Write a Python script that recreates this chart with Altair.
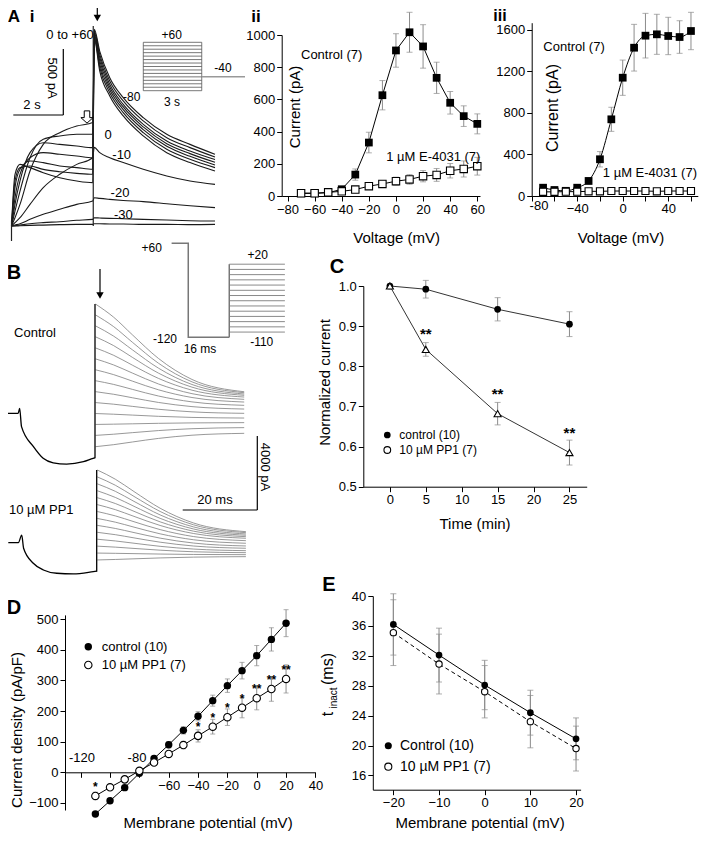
import altair as alt
import pandas as pd

FONT = "Liberation Sans Narrow, Arial Narrow, Liberation Sans, Arial, sans-serif"
BOLD = "Liberation Sans, Arial, sans-serif"
W, H, M = 691, 825, 8
GRAY = "#8c8c8c"

# ---------------- A ii : peak step current ----------------
ii_v = [-70, -60, -50, -40, -30, -20, -10, 0, 10, 20, 30, 40, 50, 60]
ii_ctrl = [17, 17, 20, 42, 133, 332, 626, 904, 1017, 929, 734, 579, 496, 448]
ii_ctrl_err = [5, 5, 5, 8, 35, 64, 91, 104, 124, 135, 97, 70, 64, 62]
ii_e4031 = [17, 17, 23, 29, 40, 61, 75, 92, 103, 123, 131, 157, 168, 185]
ii_e4031_err = [5, 5, 6, 8, 10, 15, 20, 25, 30, 35, 40, 45, 50, 55]

# ---------------- A iii : tail current ----------------
iii_v = [-70, -60, -50, -40, -30, -20, -10, 0, 10, 20, 30, 40, 50, 60]
iii_ctrl = [80, 58, 50, 80, 145, 354, 739, 1140, 1429, 1545, 1558, 1542, 1532, 1590]
iii_ctrl_err = [10, 10, 10, 15, 30, 74, 116, 170, 225, 215, 193, 180, 157, 180]
iii_e4031 = [40, 40, 42, 42, 45, 45, 48, 48, 48, 48, 45, 48, 48, 48]
iii_e4031_err = [10, 10, 10, 10, 10, 10, 10, 10, 10, 10, 10, 10, 10, 10]

# ---------------- C : normalized current vs time ----------------
c_t = [0, 5, 15, 25]
c_ctrl = [1.0, 0.992, 0.942, 0.905]
c_ctrl_err = [0.0, 0.022, 0.029, 0.031]
c_pp1 = [1.0, 0.842, 0.682, 0.585]
c_pp1_err = [0.0, 0.017, 0.028, 0.031]
c_star_t = [5, 15, 25]
c_star_y = [0.880, 0.731, 0.633]

# ---------------- D : I-V ----------------
d_v = [-110, -100, -90, -80, -70, -60, -50, -40, -30, -20, -10, 0, 10, 20]
d_ctrl = [-136, -93, -50, -3, 45, 90, 137, 183, 234, 283, 332, 381, 434, 487]
d_ctrl_err = [8, 8, 8, 5, 8, 10, 12, 15, 18, 22, 27, 33, 38, 44]
d_pp1 = [-77, -49, -23, 5, 32, 60, 89, 119, 149, 180, 211, 242, 272, 305]
d_pp1_err = [12, 8, 8, 5, 8, 10, 12, 20, 24, 27, 33, 38, 40, 46]
d_star_v = [-110, -40, -30, -20, -10, 0, 10, 20]
d_star_y = [-47, 149, 176, 209, 239, 271, 301, 334]
d_star_txt = ["*", "*", "*", "*", "*", "**", "**", "**"]

# ---------------- E : tau inactivation ----------------
e_v = [-20, -10, 0, 10, 20]
e_ctrl = [36.2, 32.1, 28.1, 24.4, 20.9]
e_ctrl_err = [4.1, 3.6, 3.3, 3.0, 2.8]
e_pp1 = [35.1, 30.9, 27.2, 23.2, 19.6]
e_pp1_err = [4.4, 4.0, 3.5, 3.5, 3.0]

# ---------------- A i : current traces (s, pA) ----------------
a1_names = ["+60", "+50", "+40", "+30", "+20", "+10", "0", "-10", "-20", "-30", "-40"]
a1_act_t = [0, 0.14, 0.34, 0.74, 1.27, 1.93, 2.61, 3.25]
a1_tail_t = [3.31, 3.53, 3.93, 4.47, 5.27, 6.21, 7.14, 8.14]
a1_act = [
    [0, 380, 453, 429, 392, 355, 331, 319],
    [0, 331, 429, 441, 416, 399, 387, 380],
    [0, 282, 417, 478, 466, 441, 429, 417],
    [0, 208, 380, 502, 539, 527, 515, 502],
    [0, 159, 331, 539, 612, 600, 588, 576],
    [0, 110, 257, 502, 637, 662, 674, 674],
    [0, 61, 159, 404, 600, 686, 735, 760],
    [0, 25, 61, 159, 282, 380, 453, 502],
    [0, 7, 17, 49, 86, 123, 159, 184],
    [0, 2, 7, 17, 25, 32, 42, 49],
    [0, 0, 2, 5, 7, 10, 12, 12],
]
a1_tail = [
    [1372, 1139, 956, 809, 662, 539, 466, 404],
    [1384, 1164, 980, 833, 686, 564, 490, 429],
    [1397, 1188, 1002, 855, 708, 586, 512, 448],
    [1409, 1213, 1021, 875, 728, 605, 532, 468],
    [1421, 1237, 1041, 894, 747, 625, 551, 488],
    [1433, 1262, 1066, 919, 772, 649, 576, 507],
    [1446, 1284, 1090, 943, 796, 674, 600, 527],
    [578, 539, 502, 466, 417, 368, 331, 306],
    [208, 203, 196, 188, 179, 164, 149, 135],
    [61, 59, 56, 54, 49, 44, 39, 37],
    [17, 17, 15, 15, 12, 12, 10, 12],
]
a1_step_t = 3.27
a1_step_range = [0, 1470]
a1_start_range = [-110, 40]
# protocol inset of A i (s, mV)
a1p_levels = [-80, -70, -60, -50, -40, -30, -20, -10, 0, 10, 20, 30, 40, 50, 60]
a1p_step = [0, 3]
a1p_tail = [3, 5.22, -40]

# ---------------- B : current traces (ms, pA) ----------------
b_t = [0.15, 5, 10, 17, 26, 40]
b_ctrl = [
    [5900, 5190, 4243, 2965, 1829, 1166],
    [5310, 4680, 3841, 2707, 1700, 1112],
    [4720, 4168, 3433, 2440, 1557, 1042],
    [4130, 3656, 3025, 2172, 1414, 972],
    [3530, 3133, 2603, 1887, 1251, 880],
    [2940, 2612, 2176, 1586, 1062, 756],
    [2350, 2089, 1741, 1271, 854, 610],
    [1760, 1561, 1295, 935, 618, 432],
    [1170, 1029, 842, 588, 363, 232],
    [580, 493, 377, 220, 81, 0],
    [-10, -47, -95, -161, -220, -254],
    [-600, -585, -566, -539, -516, -502],
    [-1190, -1127, -1044, -931, -830, -772],
    [-1800, -1692, -1548, -1354, -1181, -1080],
]
b_pp1 = [
    [3926, 3426, 2760, 1860, 1060, 594],
    [3552, 3100, 2498, 1685, 962, 540],
    [3178, 2772, 2230, 1499, 849, 470],
    [2804, 2443, 1963, 1314, 737, 400],
    [2430, 2114, 1693, 1124, 619, 324],
    [2056, 1783, 1420, 929, 493, 238],
    [1682, 1446, 1131, 706, 328, 108],
    [1308, 1107, 839, 477, 156, -32],
    [934, 767, 545, 245, -22, -178],
    [560, 431, 258, 26, -181, -302],
    [186, 93, -30, -197, -346, -432],
    [-188, -241, -311, -406, -491, -540],
    [-562, -575, -592, -615, -636, -648],
    [-934, -907, -872, -824, -781, -756],
]
b_pre_ctrl_t = [-23.5, -20.6, -20.2, -19.7, -16.5, -13.9, -11.2, -7.6, -3.1, -0.5, 0]
b_pre_ctrl = [0, 0, 270, -720, -1800, -2430, -2670, -2740, -2610, -2430, -2400]
b_pre_pp1_t = [-23.7, -21.0, -20.1, -19.6, -17.0, -14.3, -10.7, -6.3, -0.9, 0]
b_pre_pp1 = [0, 0, 410, -302, -1112, -1474, -1652, -1690, -1566, -1540]
b_step_ctrl = [-2430, 5900]
b_step_pp1 = [-1566, 3926]
# protocol inset of B (ms, mV)
bp_hold_t = [-6.5, 0, 0, 16]
bp_hold_v = [60, 60, -120, -120]
bp_levels = [20, 10, 0, -10, -20, -30, -40, -50, -60, -70, -80, -90, -100, -110]
bp_level_t = [16, 37.7]

# ---------------- layout helpers (page pixels -> scales) ----------------
def sc(domain, p0, p1):
    return alt.Scale(domain=domain, range=[p0 - M, p1 - M], nice=False, zero=False)


def xaxis(ypage, values, **kw):
    return alt.Axis(orient="bottom", offset=(ypage - M) - H, values=values, title=None, **kw)


def yaxis(xpage, values, **kw):
    return alt.Axis(orient="left", offset=-(xpage - M), values=values, title=None, **kw)


def errbars(xs, vals, errs, X, Y, cap=6, color=GRAY):
    d = pd.DataFrame({"x": xs, "m": vals, "e": errs})
    d["lo"] = d["m"] - d["e"]
    d["hi"] = d["m"] + d["e"]
    d = d[d["e"] > 0]
    base = alt.Chart(d)
    rule = base.mark_rule(color=color, strokeWidth=1).encode(
        x=alt.X("x:Q", scale=X[0], axis=X[1]),
        y=alt.Y("lo:Q", scale=Y[0], axis=Y[1]), y2="hi:Q")
    caps = base.transform_fold(["lo", "hi"], as_=["k", "val"]).mark_tick(
        color=color, orient="horizontal", size=cap, thickness=1).encode(
        x=alt.X("x:Q", scale=X[0], axis=X[1]),
        y=alt.Y("val:Q", scale=Y[0], axis=Y[1]))
    return [rule, caps]


def series(xs, ys, X, Y, shape, filled, size, line=True, dash=None, stroke=1.0,
           interp="linear"):
    d = pd.DataFrame({"x": xs, "y": ys})
    enc = dict(x=alt.X("x:Q", scale=X[0], axis=X[1]), y=alt.Y("y:Q", scale=Y[0], axis=Y[1]))
    out = []
    if line:
        kw = dict(color="black", strokeWidth=stroke, interpolate=interp)
        if dash:
            kw["strokeDash"] = dash
        out.append(alt.Chart(d).mark_line(**kw).encode(**enc))
    if filled:
        pm = alt.Chart(d).mark_point(shape=shape, filled=True, color="black", size=size, opacity=1)
    else:
        pm = alt.Chart(d).mark_point(shape=shape, filled=True, fill="white", stroke="black",
                                     strokeWidth=1.1, size=size, opacity=1)
    out.append(pm.encode(**enc))
    return out


layers = []

# ---- A ii ----
Xii = (sc([-84.3, 62], 281.7, 480), xaxis(196, list(range(-80, 61, 20))))
Yii = (sc([0, 1000], 196, 35), yaxis(281.7, list(range(0, 1001, 200)), format="d"))
p = []
p += errbars(ii_v, ii_ctrl, ii_ctrl_err, Xii, Yii)
p += errbars(ii_v, ii_e4031, ii_e4031_err, Xii, Yii)
p += series(ii_v, ii_ctrl, Xii, Yii, "square", True, 60)
p += series(ii_v, ii_e4031, Xii, Yii, "square", False, 55)
layers.append(alt.layer(*p))

# ---- A iii ----
Xiii = (sc([-80, 66], 531.7, 697.8),
        xaxis(196, list(range(-80, 61, 20)),
              labelExpr="(datum.value % 40 == 0 && datum.value > -80) ? datum.label : ''",
              labelPadding=1))
Yiii = (sc([0, 1670], 196, 22.7), yaxis(531.7, [0, 400, 800, 1200, 1600], format="d"))
p = []
p += errbars(iii_v, iii_ctrl, iii_ctrl_err, Xiii, Yiii)
p += series(iii_v, iii_ctrl, Xiii, Yiii, "square", True, 60, interp="monotone")
p += series(iii_v, iii_e4031, Xiii, Yiii, "square", False, 50)
layers.append(alt.layer(*p))

# ---- C ----
Xc = (sc([-3.7, 27.4], 363.3, 586.7), xaxis(486.7, [0, 5, 10, 15, 20, 25]))
Yc = (sc([0.5, 1.0], 486.7, 286), yaxis(363.3, [0.5, 0.6, 0.7, 0.8, 0.9, 1.0], format=".1f"))
p = []
p += errbars(c_t, c_ctrl, c_ctrl_err, Xc, Yc)
p += errbars(c_t, c_pp1, c_pp1_err, Xc, Yc)
p += series(c_t, c_ctrl, Xc, Yc, "circle", True, 45, stroke=0.8)
p += series(c_t, c_pp1, Xc, Yc, "triangle-up", False, 50, stroke=0.8)
cs = pd.DataFrame({"x": c_star_t, "y": c_star_y, "s": ["**"] * 3})
p.append(alt.Chart(cs).mark_text(font=BOLD, fontSize=15, fontWeight="bold", baseline="middle").encode(
    x=alt.X("x:Q", scale=Xc[0], axis=Xc[1]), y=alt.Y("y:Q", scale=Yc[0], axis=Yc[1]), text="s:N"))
layers.append(alt.layer(*p))

# ---- D ----
Xd = (sc([-130.7, 40], 65, 315.4),
      xaxis(772.3, list(range(-120, 41, 20)), labelExpr="datum.value < -70 ? '' : datum.label"))
Yd = (sc([-123, 514], 810, 614.9), yaxis(65, list(range(-100, 501, 100))))
p = []
p += errbars(d_v, d_ctrl, d_ctrl_err, Xd, Yd, cap=5)
p += errbars(d_v, d_pp1, d_pp1_err, Xd, Yd, cap=5)
p += series(d_v, d_ctrl, Xd, Yd, "circle", True, 55)
p += series(d_v, d_pp1, Xd, Yd, "circle", False, 55)
ds = pd.DataFrame({"x": d_star_v, "y": d_star_y, "s": d_star_txt})
p.append(alt.Chart(ds).mark_text(font=BOLD, fontSize=12, fontWeight="bold", baseline="middle").encode(
    x=alt.X("x:Q", scale=Xd[0], axis=Xd[1]), y=alt.Y("y:Q", scale=Yd[0], axis=Yd[1]), text="s:N"))
layers.append(alt.layer(*p))

# ---- E ----
Xe = (sc([-24.5, 21], 372.8, 580.6), xaxis(789.7, [-20, -10, 0, 10, 20]))
Ye = (sc([14.1, 40], 789.7, 596), yaxis(372.8, [16, 20, 24, 28, 32, 36, 40]))
p = []
p += errbars(e_v, e_ctrl, e_ctrl_err, Xe, Ye)
p += errbars(e_v, e_pp1, e_pp1_err, Xe, Ye)
p += series(e_v, e_pp1, Xe, Ye, "circle", False, 40, dash=[4, 3])
p += series(e_v, e_ctrl, Xe, Ye, "circle", True, 45)
layers.append(alt.layer(*p))

# ---- A i traces ----
Xa1 = (sc([0, 8.14], 11.5, 215), None)
Ya1 = (sc([-110, 1480], 241, 24.6), None)
rows = []
for k, nm in enumerate(a1_names):
    for i, (t, v) in enumerate(zip(a1_act_t + a1_tail_t, a1_act[k] + a1_tail[k])):
        rows.append({"trace": nm, "idx": i, "t": t, "pA": v})
dfa1 = pd.DataFrame(rows)
tr_a1 = alt.Chart(dfa1).mark_line(color="#1a1a1a", strokeWidth=1.1, interpolate="monotone").encode(
    x=alt.X("t:Q", scale=Xa1[0], axis=None), y=alt.Y("pA:Q", scale=Ya1[0], axis=None),
    detail="trace:N", order="idx:Q")
rr = pd.DataFrame({"t": [a1_step_t, 0], "lo": [a1_step_range[0], a1_start_range[0]],
                   "hi": [a1_step_range[1], a1_start_range[1]]})
st_a1 = alt.Chart(rr).mark_rule(color="#222", strokeWidth=1.2).encode(
    x=alt.X("t:Q", scale=Xa1[0], axis=None), y=alt.Y("lo:Q", scale=Ya1[0], axis=None), y2="hi:Q")
layers.append(alt.layer(tr_a1, st_a1))

# ---- A i protocol inset ----
Xa1p = sc([0, 5.22], 143.3, 245)
Ya1p = sc([-80, 60], 90.7, 42.3)
lv = pd.DataFrame({"t0": [a1p_step[0]] * len(a1p_levels), "t1": [a1p_step[1]] * len(a1p_levels),
                   "v": a1p_levels})
ins1 = alt.Chart(lv).mark_rule(color="#555", strokeWidth=0.8).encode(
    x=alt.X("t0:Q", scale=Xa1p, axis=None), x2="t1:Q", y=alt.Y("v:Q", scale=Ya1p, axis=None))
vv = pd.DataFrame({"t": a1p_step, "lo": [min(a1p_levels)] * 2, "hi": [max(a1p_levels)] * 2})
ins2 = alt.Chart(vv).mark_rule(color="#555", strokeWidth=0.8).encode(
    x=alt.X("t:Q", scale=Xa1p, axis=None), y=alt.Y("lo:Q", scale=Ya1p, axis=None), y2="hi:Q")
tl = pd.DataFrame({"t0": [a1p_tail[0]], "t1": [a1p_tail[1]], "v": [a1p_tail[2]]})
ins3 = alt.Chart(tl).mark_rule(color="#999", strokeWidth=1.5).encode(
    x=alt.X("t0:Q", scale=Xa1p, axis=None), x2="t1:Q", y=alt.Y("v:Q", scale=Ya1p, axis=None))
layers.append(alt.layer(ins1, ins2, ins3))


# ---- B traces ----
def b_panel(tails, pre_t, pre_v, step, X, Y):
    rows = []
    for k, tr in enumerate(tails):
        for i, (t, v) in enumerate(zip(b_t, tr)):
            rows.append({"trace": k, "idx": i, "t": t, "pA": v})
    d = pd.DataFrame(rows)
    tails_l = alt.Chart(d).mark_line(color="#7d7d7d", strokeWidth=0.8, interpolate="monotone").encode(
        x=alt.X("t:Q", scale=X, axis=None), y=alt.Y("pA:Q", scale=Y, axis=None),
        detail="trace:N", order="idx:Q")
    pre = alt.Chart(pd.DataFrame({"t": pre_t, "pA": pre_v})).mark_line(
        color="black", strokeWidth=1.3, interpolate="monotone").encode(
        x=alt.X("t:Q", scale=X, axis=None), y=alt.Y("pA:Q", scale=Y, axis=None))
    stp = alt.Chart(pd.DataFrame({"t": [0], "lo": [step[0]], "hi": [step[1]]})).mark_rule(
        color="black", strokeWidth=1.3).encode(
        x=alt.X("t:Q", scale=X, axis=None), y=alt.Y("lo:Q", scale=Y, axis=None), y2="hi:Q")
    return alt.layer(tails_l, pre, stp)


layers.append(b_panel(b_ctrl, b_pre_ctrl_t, b_pre_ctrl, b_step_ctrl,
                      sc([-25, 40], 1.75, 244.2), sc([-3000, 6000], 468.9, 302.2)))
layers.append(b_panel(b_pp1, b_pre_pp1_t, b_pre_pp1, b_step_pp1,
                      sc([-25, 40], 3.45, 245.9), sc([-2000, 4000], 579.7, 468.6)))

# ---- B protocol inset ----
Xbp = sc([-6.5, 37.7], 171.6, 284.9)
Ybp = sc([-120, 60], 337.3, 243.3)
hold = pd.DataFrame({"t": bp_hold_t, "v": bp_hold_v, "i": list(range(len(bp_hold_t)))})
bp1 = alt.Chart(hold).mark_line(color="#777", strokeWidth=1.5).encode(
    x=alt.X("t:Q", scale=Xbp, axis=None), y=alt.Y("v:Q", scale=Ybp, axis=None), order="i:Q")
bl = pd.DataFrame({"t0": [bp_level_t[0]] * len(bp_levels), "t1": [bp_level_t[1]] * len(bp_levels),
                   "v": bp_levels})
bp2 = alt.Chart(bl).mark_rule(color="#8a8a8a", strokeWidth=1).encode(
    x=alt.X("t0:Q", scale=Xbp, axis=None), x2="t1:Q", y=alt.Y("v:Q", scale=Ybp, axis=None))
bv = pd.DataFrame({"t": [bp_level_t[0]], "lo": [-120], "hi": [max(bp_levels)]})
bp3 = alt.Chart(bv).mark_rule(color="#777", strokeWidth=1.5).encode(
    x=alt.X("t:Q", scale=Xbp, axis=None), y=alt.Y("lo:Q", scale=Ybp, axis=None), y2="hi:Q")
layers.append(alt.layer(bp1, bp2, bp3))

# ---------------- annotations (page pixel layout) ----------------
ann = [
    ("A", 14, 17, 17, 0, "center", True), ("i", 32, 17, 17, 0, "center", True),
    ("ii", 256, 17, 17, 0, "center", True), ("iii", 500, 16, 16, 0, "center", True),
    ("B", 14, 273, 20, 0, "center", True), ("C", 337, 267, 20, 0, "center", True),
    ("D", 14, 608, 20, 0, "center", True), ("E", 329, 585, 20, 0, "center", True),
    ("0 to +60", 70, 35, 13, 0, "center", False),
    ("500 pA", 51.7, 78, 13, 90, "center", False),
    ("2 s", 32, 105, 13, 0, "center", False),
    ("0", 108, 135, 13, 0, "center", False), ("-10", 121.7, 155, 13, 0, "center", False),
    ("-20", 120, 193.3, 13, 0, "center", False), ("-30", 123.3, 215, 13, 0, "center", False),
    ("+60", 171.7, 35, 12, 0, "center", False), ("-80", 131.7, 96.7, 12, 0, "center", False),
    ("-40", 223, 68.3, 12, 0, "center", False), ("3 s", 172, 102, 12, 0, "center", False),
    ("Control (7)", 331.7, 55, 13, 0, "center", False),
    ("1 µM E-4031 (7)", 433.3, 157, 13, 0, "center", False),
    ("Current (pA)", 295, 107, 15, 270, "center", False),
    ("Voltage (mV)", 396.7, 238, 15, 0, "center", False),
    ("Control (7)", 574, 46.7, 13, 0, "center", False),
    ("1 µM E-4031 (7)", 697, 173, 13, 0, "right", False),
    ("Current (pA)", 552.5, 108, 16, 270, "center", False),
    ("Voltage (mV)", 621, 238, 15, 0, "center", False),
    ("-80", 539, 206, 13, 0, "center", False),
    ("Control", 35, 333, 13, 0, "center", False),
    ("10 µM PP1", 9, 510, 13, 0, "left", False),
    ("+60", 151.7, 248.3, 12, 0, "center", False), ("-120", 165, 339, 12, 0, "center", False),
    ("16 ms", 200, 349, 12, 0, "center", False), ("+20", 257.7, 255, 12, 0, "center", False),
    ("-110", 261.7, 342.3, 12, 0, "center", False),
    ("20 ms", 215, 500, 13, 0, "center", False), ("4000 pA", 265, 467, 13, 90, "center", False),
    ("Normalized current", 325, 382.5, 15, 270, "center", False),
    ("Time (min)", 475, 524, 15, 0, "center", False),
    ("-120", 82, 758.3, 13, 0, "center", False), ("-80", 137, 758.3, 13, 0, "center", False),
    ("Current density (pA/pF)", 17, 730, 15, 270, "center", False),
    ("Membrane potential (mV)", 208, 823, 15, 0, "center", False),
    ("Membrane potential (mV)", 480, 823, 15, 0, "center", False),
    ("t", 328, 714, 16, 270, "center", False), ("inact", 334, 698, 10, 270, "center", False),
    ("(ms)", 328, 669, 16, 270, "center", False),
    ("control (10)", 399.3, 435, 12, 0, "left", False), ("10 µM PP1 (7)", 399.3, 450, 12, 0, "left", False),
    ("control (10)", 101.7, 646.7, 13, 0, "left", False), ("10 µM PP1 (7)", 101.7, 665, 13, 0, "left", False),
    ("Control (10)", 400, 745.7, 14, 0, "left", False), ("10 µM PP1 (7)", 400, 766.7, 14, 0, "left", False),
]
adf = pd.DataFrame(ann, columns=["text", "x", "y", "size", "angle", "align", "bold"])
adf["x"] = adf["x"] - M
adf["y"] = adf["y"] - M
for (al, bd), g in adf.groupby(["align", "bold"]):
    layers.append(alt.Chart(g).mark_text(
        align=al, baseline="middle", fontWeight="bold" if bd else "normal",
        font=BOLD if bd else FONT, color="black").encode(
        x=alt.X("x:Q", scale=None), y=alt.Y("y:Q", scale=None), text="text:N",
        size=alt.Size("size:Q", scale=None, legend=None), angle=alt.Angle("angle:Q", scale=None)))

# legend symbols (page pixel layout)
leg = pd.DataFrame([
    (387.3, 435, 45, True), (387.3, 450, 45, False),
    (88.3, 646.7, 55, True), (88.3, 665, 55, False),
    (388.3, 745.7, 50, True), (388.3, 766.7, 50, False),
], columns=["x", "y", "s", "f"])
leg["x"] -= M
leg["y"] -= M
for f, g in leg.groupby("f"):
    mk = (alt.Chart(g).mark_point(shape="circle", filled=True, color="black", opacity=1) if f else
          alt.Chart(g).mark_point(shape="circle", filled=True, fill="white", stroke="black",
                                  strokeWidth=1.1, opacity=1))
    layers.append(mk.encode(x=alt.X("x:Q", scale=None), y=alt.Y("y:Q", scale=None),
                            size=alt.Size("s:Q", scale=None, legend=None)))

# scale bars and arrows (page pixel layout)
bars = pd.DataFrame([
    (63.3, 49, 63.3, 115), (13.3, 115, 63.3, 115),
    (257.3, 436, 257.3, 510), (182.7, 510, 257.3, 510),
    (97.3, 4, 97.3, 16), (100, 269, 100, 293),
], columns=["x", "y", "x2", "y2"])
for c in ["x", "x2", "y", "y2"]:
    bars[c] -= M
layers.append(alt.Chart(bars).mark_rule(color="black", strokeWidth=1.2).encode(
    x=alt.X("x:Q", scale=None), y=alt.Y("y:Q", scale=None), x2="x2:Q", y2="y2:Q"))
heads = pd.DataFrame({"x": [97.3 - M, 100 - M], "y": [18 - M, 295.5 - M]})
layers.append(alt.Chart(heads).mark_point(shape="triangle-down", filled=True, color="black",
                                          size=55, opacity=1).encode(
    x=alt.X("x:Q", scale=None), y=alt.Y("y:Q", scale=None)))
oa = pd.DataFrame({"x": [87 - M], "y": [117 - M]})
layers.append(alt.Chart(oa).mark_point(
    shape="M -0.45 -1 L 0.45 -1 L 0.45 0.1 L 1 0.1 L 0 1 L -1 0.1 L -0.45 0.1 Z",
    filled=True, fill="white", stroke="black", strokeWidth=1, size=150, opacity=1).encode(
    x=alt.X("x:Q", scale=None), y=alt.Y("y:Q", scale=None)))

chart = alt.layer(*layers).resolve_scale(
    x="independent", y="independent", size="independent", angle="independent"
).properties(
    width=W, height=H, padding=0, autosize=alt.AutoSizeParams(type="none")
).configure_view(stroke=None).configure_axis(
    grid=False, labelFont=FONT, labelFontSize=13, labelColor="black", domainColor="black",
    tickColor="black", tickSize=5, labelPadding=2, labelFlush=False, labelOverlap=False,
    domainWidth=1, tickWidth=1
)

chart.save("out.html", embed_options={"renderer": "svg", "actions": False})
